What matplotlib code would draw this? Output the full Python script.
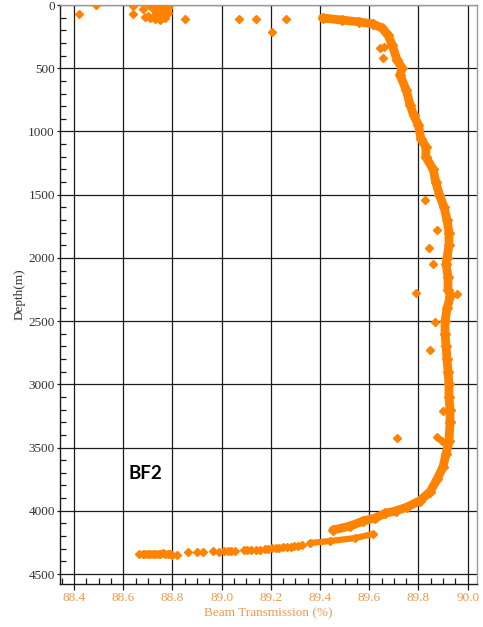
#!/usr/bin/env python3
# -*- coding: utf-8 -*-
"""Profil de transmission du faisceau en fonction de la profondeur (station BF2)."""
import matplotlib
matplotlib.use("Agg")
import matplotlib.pyplot as plt
from matplotlib.ticker import MultipleLocator

# Profil principal (descente), profondeur en m et transmission en %
prof_depth = [103, 119, 134, 150, 182, 237, 316, 435, 500, 554, 672, 791, 870,
              949, 1060, 1120, 1202, 1300, 1400, 1500, 1600, 1700, 1800, 1900,
              2000, 2050, 2150, 2250, 2300, 2400, 2500, 2600, 2700, 2800, 2900,
              3000, 3100, 3200, 3300, 3450, 3550, 3650, 3750, 3850, 3920, 3970,
              4000, 4020, 4057, 4081, 4121, 4152]
prof_trans = [89.41, 89.49, 89.56, 89.615, 89.652, 89.676, 89.693, 89.713, 89.733,
              89.725, 89.75, 89.766, 89.78, 89.80, 89.81, 89.83, 89.83, 89.86,
              89.87, 89.885, 89.904, 89.916, 89.924, 89.924, 89.916, 89.912,
              89.92, 89.92, 89.93, 89.916, 89.908, 89.908, 89.912, 89.916, 89.92,
              89.924, 89.924, 89.928, 89.928, 89.924, 89.912, 89.90, 89.876,
              89.847, 89.806, 89.754, 89.71, 89.665, 89.623, 89.575, 89.522, 89.453]

# Retour pres du fond
loop_depth = [4184, 4216, 4239, 4255]
loop_trans = [89.615, 89.542, 89.441, 89.359]

# Queue au fond (points isoles)
tail_trans = [88.665, 88.68, 88.69, 88.70, 88.71, 88.72, 88.73, 88.74, 88.75, 88.76,
              88.77, 88.78, 88.79, 88.80, 88.82, 88.865, 88.90, 88.925, 88.965,
              88.99, 89.01, 89.025, 89.04, 89.055, 89.09, 89.105, 89.12, 89.14,
              89.155, 89.175, 89.19, 89.205, 89.22, 89.235, 89.25, 89.265, 89.28,
              89.295, 89.31, 89.325]
tail_depth = [4345, 4340, 4342, 4345, 4340, 4342, 4345, 4340, 4338, 4335,
              4340, 4345, 4340, 4350, 4350, 4326, 4326, 4326, 4320,
              4322, 4320, 4320, 4318, 4318, 4312, 4312, 4310, 4310,
              4308, 4300, 4300, 4298, 4296, 4294, 4290, 4287, 4283,
              4280, 4276, 4272]

# Surface : amas et points disperses
surf_trans = [88.42, 88.49, 88.64, 88.64, 88.68, 88.71, 88.85, 89.07, 89.14, 89.205,
              89.26, 88.72, 88.73, 88.74, 88.75, 88.76, 88.77, 88.78, 88.73, 88.75,
              88.77, 88.74, 88.76, 88.78, 88.70, 88.72, 88.74, 88.76, 88.73, 88.75,
              88.77, 88.69, 88.71, 88.77, 88.78, 88.76]
surf_depth = [71, 0, 8, 71, 32, 8, 110, 110, 110, 213,
              110, 10, 20, 5, 15, 0, 10, 25, 45, 40,
              50, 70, 65, 60, 85, 95, 100, 90, 110, 115,
              105, 95, 105, 0, 5, 30]

# Valeurs aberrantes le long du profil
out_trans = [89.644, 89.66, 89.656, 89.827, 89.876, 89.843, 89.86, 89.79, 89.957,
             89.867, 89.847, 89.90, 89.713, 89.876, 89.896]
out_depth = [340, 330, 419, 1542, 1780, 1922, 2048, 2278, 2286,
             2507, 2729, 3211, 3425, 3420, 3450]

orange = '#FF8200'
lab_orange = '#EE9A4A'
serif = ['Liberation Serif', 'DejaVu Serif']

fig = plt.figure(figsize=(4.83, 6.27), dpi=100)
ax = fig.add_axes([60/483, 1 - 584/627, 417/483, 579/627])

ax.plot(prof_trans, prof_depth, color=orange, lw=6.3, marker='D', ms=5,
        solid_capstyle='round', solid_joinstyle='round', zorder=3)
ax.plot(loop_trans, loop_depth, color=orange, lw=4.5, marker='D', ms=4.5,
        solid_capstyle='round', zorder=3)
ax.plot(tail_trans, tail_depth, ls='none', color=orange, marker='D', ms=4.5, zorder=3)
ax.plot(surf_trans, surf_depth, ls='none', color=orange, marker='D', ms=4.5, zorder=3)
ax.plot(out_trans, out_depth, ls='none', color=orange, marker='D', ms=4.5, zorder=3)

ax.set_xlim(88.3431, 90.0378)
ax.set_ylim(4579, 0)

ax.xaxis.set_major_locator(MultipleLocator(0.2))
ax.xaxis.set_minor_locator(MultipleLocator(0.05))
ax.yaxis.set_major_locator(MultipleLocator(500))
ax.yaxis.set_minor_locator(MultipleLocator(100))
ax.xaxis.set_major_formatter(lambda v, p: f'{v:.1f}')
ax.yaxis.set_major_formatter(lambda v, p: f'{v:.0f}')

ax.grid(True, which='major', color='#1a1a1a', lw=0.9, zorder=1)
ax.set_axisbelow(True)

ax.tick_params(axis='y', which='major', direction='out', length=2.2, width=0.9,
               pad=1.5, labelsize=9.5, labelcolor='#333333', color='#1a1a1a')
ax.tick_params(axis='y', which='minor', direction='in', length=4.3, width=0.9,
               color='#1a1a1a')
ax.tick_params(axis='x', which='major', direction='out', length=4.3, width=0.9,
               pad=1.5, labelsize=9.5, labelcolor=lab_orange, color='#1a1a1a')
ax.tick_params(axis='x', which='minor', direction='in', length=4.3, width=0.9,
               color='#1a1a1a')
for lab in ax.get_xticklabels() + ax.get_yticklabels():
    lab.set_family(serif)

for side in ['left', 'bottom']:
    ax.spines[side].set_color('#1a1a1a')
    ax.spines[side].set_linewidth(1.0)
for side in ['top', 'right']:
    ax.spines[side].set_color('#9a9a9a')
    ax.spines[side].set_linewidth(1.0)

ax.set_xlabel('Beam Transmission (%)', family=serif, fontsize=9.5,
              color=lab_orange, labelpad=2)
ax.set_ylabel('Depth(m)', family=serif, fontsize=9.5, color='#333333', labelpad=2)

ax.text(0.205, 0.191, 'BF2', transform=ax.transAxes, ha='center', va='center',
        family=['Lato', 'DejaVu Sans'], fontweight='bold', fontsize=13.5,
        color='black')

fig.savefig('out.png', dpi=100)
